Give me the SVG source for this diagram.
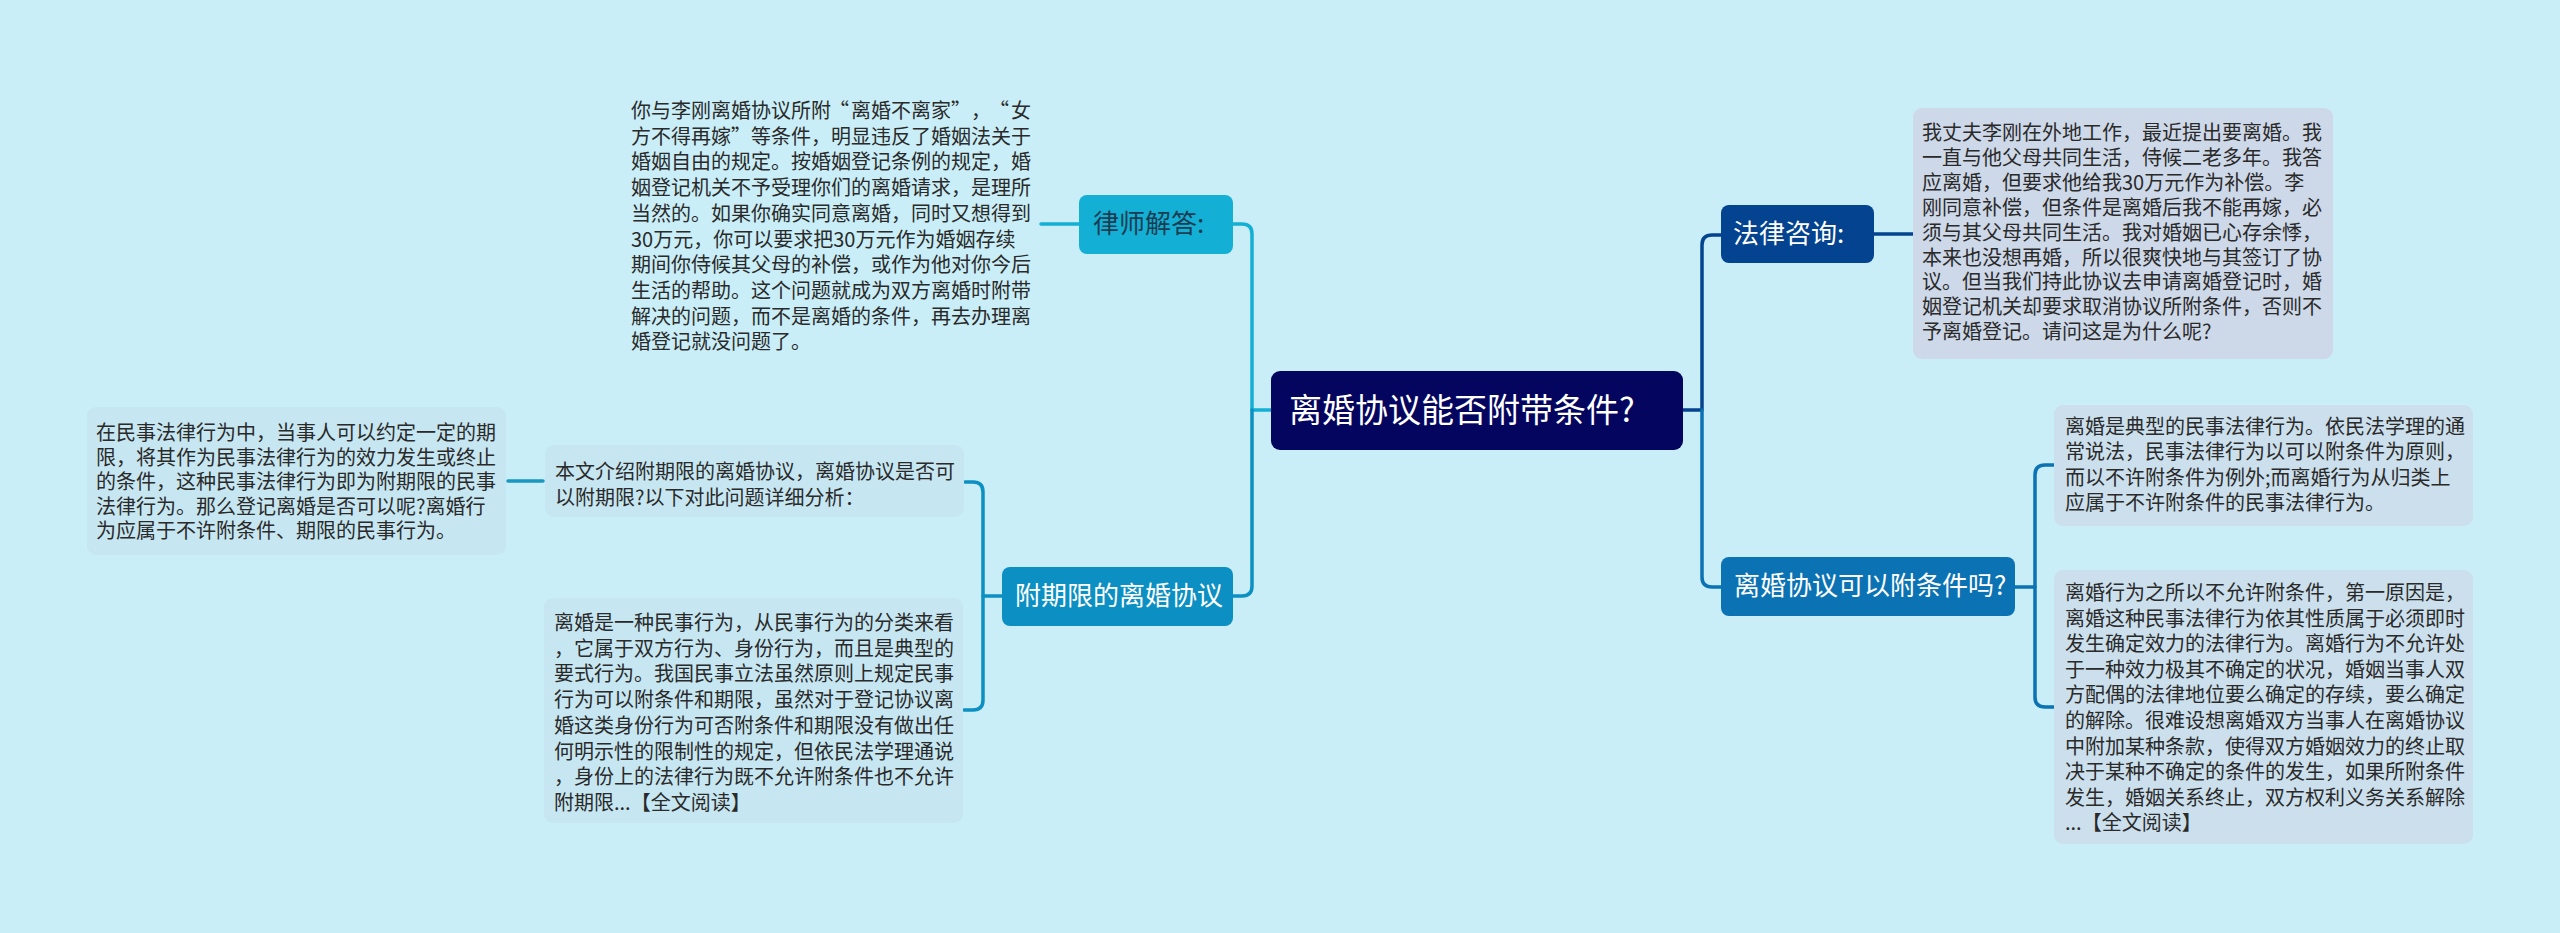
<svg xmlns="http://www.w3.org/2000/svg" width="2560" height="933" viewBox="0 0 2560 933">
<style>
.bg{fill:#c9eef7}
.leaf{font-family:"Noto Sans CJK SC","Noto Sans",sans-serif;font-size:20px;fill:#2a2a2a}
.nodeT{font-family:"Noto Sans CJK SC","Noto Sans",sans-serif;font-size:26px;fill:#ffffff}
.cn{fill:none;stroke-width:3.5;stroke-linecap:round;stroke-linejoin:round}
</style>
<rect class="bg" x="0" y="0" width="2560" height="933"/>
<g id="connectors">
  <path class="cn" stroke="#14afd5" d="M1271,410 H1252 V234 Q1252,224 1242,224 H1233"/>
  <path class="cn" stroke="#0c8fc2" d="M1252,410 V586 Q1252,596 1242,596 H1233"/>
  <path class="cn" stroke="#04438f" d="M1683,410 H1702 V245 Q1702,235 1712,235 H1721"/>
  <path class="cn" stroke="#0b72b4" d="M1702,410 V577 Q1702,587 1712,587 H1721"/>
  <path class="cn" stroke="#14afd5" d="M1079,224 H1041"/>
  <path class="cn" stroke="#04438f" d="M1874,234 H1913"/>
  <path class="cn" stroke="#0c8fc2" d="M1002,596 H983 V492 Q983,482 973,482 H965"/>
  <path class="cn" stroke="#0c8fc2" d="M983,596 V700 Q983,710 973,710 H964"/>
  <path class="cn" stroke="#1a97c0" d="M543,481 H508"/>
  <path class="cn" stroke="#0b72b4" d="M2015,587 H2035 V475 Q2035,465 2045,465 H2054"/>
  <path class="cn" stroke="#0b72b4" d="M2035,587 V697 Q2035,707 2045,707 H2054"/>
</g>
<g id="center">
  <rect x="1271" y="371" width="412" height="79" rx="9" fill="#03055e"/>
  <text x="1289" y="422" font-family="'Noto Sans CJK SC','Noto Sans',sans-serif" font-size="33" fill="#ffffff">离婚协议能否附带条件?</text>
</g>
<g id="lawyer">
  <rect x="1079" y="195" width="154" height="59" rx="8" fill="#14afd5"/>
  <text class="nodeT" x="1093" y="233" style="fill:#1b3d52">律师解答:</text>
</g>
<g id="lawyer-text">
  <text class="leaf" x="631" y="118">你与李刚离婚协议所附</text>
  <text class="leaf" x="849" y="118" text-anchor="end">“</text>
  <text class="leaf" x="851" y="118">离婚不离家”</text>
  <text class="leaf" x="971" y="118">，</text>
  <text class="leaf" x="1009" y="118" text-anchor="end">“</text>
  <text class="leaf" x="1011" y="118">女</text>
  <text class="leaf" x="631" y="143.7">方不得再嫁”</text>
  <text class="leaf" x="751" y="143.7">等条件，明显违反了婚姻法关于</text>
  <text class="leaf" x="631" y="169.4">
    <tspan x="631" dy="0">婚姻自由的规定。按婚姻登记条例的规定，婚</tspan>
    <tspan x="631" dy="25.7">姻登记机关不予受理你们的离婚请求，是理所</tspan>
    <tspan x="631" dy="25.7">当然的。如果你确实同意离婚，同时又想得到</tspan>
    <tspan x="631" dy="25.7">30万元，你可以要求把30万元作为婚姻存续</tspan>
    <tspan x="631" dy="25.7">期间你侍候其父母的补偿，或作为他对你今后</tspan>
    <tspan x="631" dy="25.7">生活的帮助。这个问题就成为双方离婚时附带</tspan>
    <tspan x="631" dy="25.7">解决的问题，而不是离婚的条件，再去办理离</tspan>
    <tspan x="631" dy="25.7">婚登记就没问题了。</tspan>
  </text>
</g>
<g id="term">
  <rect x="1002" y="567" width="231" height="59" rx="8" fill="#0c8fc2"/>
  <text class="nodeT" x="1015" y="605">附期限的离婚协议</text>
</g>
<g id="intro">
  <rect x="545" y="445" width="419" height="72" rx="9" fill="#c6e6f1"/>
  <text class="leaf" x="555" y="479">
    <tspan x="555" dy="0">本文介绍附期限的离婚协议，离婚协议是否可</tspan>
    <tspan x="555" dy="26">以附期限?以下对此问题详细分析：</tspan>
  </text>
</g>
<g id="civil">
  <rect x="87" y="407" width="419" height="148" rx="9" fill="#c6e6f1"/>
  <text class="leaf" x="96" y="440">
    <tspan x="96" dy="0">在民事法律行为中，当事人可以约定一定的期</tspan>
    <tspan x="96" dy="24.6">限，将其作为民事法律行为的效力发生或终止</tspan>
    <tspan x="96" dy="24.6">的条件，这种民事法律行为即为附期限的民事</tspan>
    <tspan x="96" dy="24.6">法律行为。那么登记离婚是否可以呢?离婚行</tspan>
    <tspan x="96" dy="24.6">为应属于不许附条件、期限的民事行为。</tspan>
  </text>
</g>
<g id="divorce-act">
  <rect x="544" y="598" width="419" height="225" rx="9" fill="#c6e6f1"/>
  <text class="leaf" x="554" y="630">
    <tspan x="554" dy="0">离婚是一种民事行为，从民事行为的分类来看</tspan>
    <tspan x="554" dy="25.7">，它属于双方行为、身份行为，而且是典型的</tspan>
    <tspan x="554" dy="25.7">要式行为。我国民事立法虽然原则上规定民事</tspan>
    <tspan x="554" dy="25.7">行为可以附条件和期限，虽然对于登记协议离</tspan>
    <tspan x="554" dy="25.7">婚这类身份行为可否附条件和期限没有做出任</tspan>
    <tspan x="554" dy="25.7">何明示性的限制性的规定，但依民法学理通说</tspan>
    <tspan x="554" dy="25.7">，身份上的法律行为既不允许附条件也不允许</tspan>
    <tspan x="554" dy="25.7">附期限...【全文阅读】</tspan>
  </text>
</g>
<g id="consult">
  <rect x="1721" y="205" width="153" height="58" rx="8" fill="#04438f"/>
  <text class="nodeT" x="1733" y="243">法律咨询:</text>
</g>
<g id="question">
  <rect x="1913" y="108" width="420" height="251" rx="9" fill="#cdd8e8"/>
  <text class="leaf" x="1922" y="140">
    <tspan x="1922" dy="0">我丈夫李刚在外地工作，最近提出要离婚。我</tspan>
    <tspan x="1922" dy="24.9">一直与他父母共同生活，侍候二老多年。我答</tspan>
    <tspan x="1922" dy="24.9">应离婚，但要求他给我30万元作为补偿。李</tspan>
    <tspan x="1922" dy="24.9">刚同意补偿，但条件是离婚后我不能再嫁，必</tspan>
    <tspan x="1922" dy="24.9">须与其父母共同生活。我对婚姻已心存余悸，</tspan>
    <tspan x="1922" dy="24.9">本来也没想再婚，所以很爽快地与其签订了协</tspan>
    <tspan x="1922" dy="24.9">议。但当我们持此协议去申请离婚登记时，婚</tspan>
    <tspan x="1922" dy="24.9">姻登记机关却要求取消协议所附条件，否则不</tspan>
    <tspan x="1922" dy="24.9">予离婚登记。请问这是为什么呢?</tspan>
  </text>
</g>
<g id="condition">
  <rect x="1721" y="557" width="294" height="59" rx="8" fill="#0b72b4"/>
  <text class="nodeT" x="1734" y="595">离婚协议可以附条件吗?</text>
</g>
<g id="typical">
  <rect x="2054" y="405" width="419" height="121" rx="9" fill="#cbdfec"/>
  <text class="leaf" x="2065" y="434">
    <tspan x="2065" dy="0">离婚是典型的民事法律行为。依民法学理的通</tspan>
    <tspan x="2065" dy="25.3">常说法，民事法律行为以可以附条件为原则，</tspan>
    <tspan x="2065" dy="25.3">而以不许附条件为例外;而离婚行为从归类上</tspan>
    <tspan x="2065" dy="25.3">应属于不许附条件的民事法律行为。</tspan>
  </text>
</g>
<g id="reason">
  <rect x="2054" y="570" width="419" height="274" rx="9" fill="#cbdfec"/>
  <text class="leaf" x="2065" y="600">
    <tspan x="2065" dy="0">离婚行为之所以不允许附条件，第一原因是，</tspan>
    <tspan x="2065" dy="25.6">离婚这种民事法律行为依其性质属于必须即时</tspan>
    <tspan x="2065" dy="25.6">发生确定效力的法律行为。离婚行为不允许处</tspan>
    <tspan x="2065" dy="25.6">于一种效力极其不确定的状况，婚姻当事人双</tspan>
    <tspan x="2065" dy="25.6">方配偶的法律地位要么确定的存续，要么确定</tspan>
    <tspan x="2065" dy="25.6">的解除。很难设想离婚双方当事人在离婚协议</tspan>
    <tspan x="2065" dy="25.6">中附加某种条款，使得双方婚姻效力的终止取</tspan>
    <tspan x="2065" dy="25.6">决于某种不确定的条件的发生，如果所附条件</tspan>
    <tspan x="2065" dy="25.6">发生，婚姻关系终止，双方权利义务关系解除</tspan>
    <tspan x="2065" dy="25.6">...【全文阅读】</tspan>
  </text>
</g>
</svg>
